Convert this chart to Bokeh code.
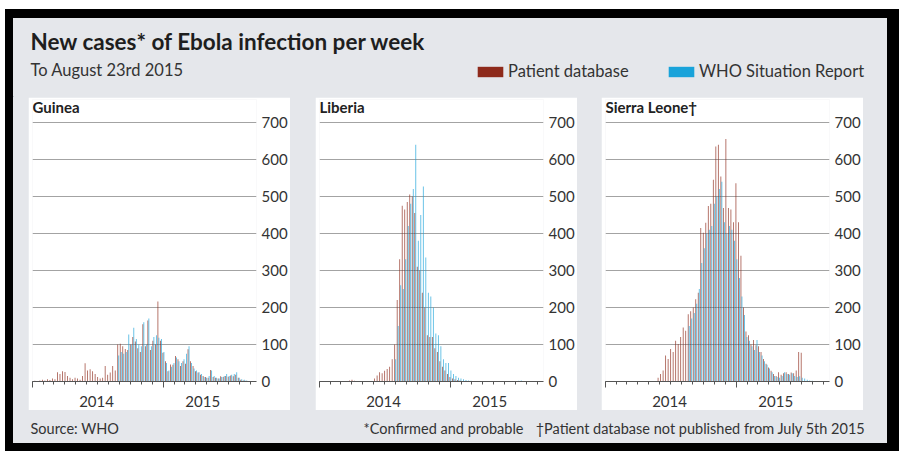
import pandas as pd
from bokeh.plotting import figure
from bokeh.models import (ColumnDataSource, Range1d, LinearAxis, FixedTicker, Grid,
                          DatetimeTickFormatter, Label, Legend, LegendItem, Spacer,
                          CustomLabelingPolicy)
from bokeh.layouts import column, row
from bokeh.embed import file_html
from bokeh.resources import INLINE

# ---------------- data ----------------
first_week_ending = "2014-01-05"   # weekly data, 86 weeks to August 23rd 2015
n_weeks = 86

guinea_patient = [0, 2, 0, 3, 5, 3, 6, 4, 8, 6,
                  25, 20, 28, 26, 15, 10, 6, 10, 8, 5,
                  15, 49, 30, 33, 28, 20, 12, 8, 10, 42,
                  18, 24, 42, 30, 100, 102, 95, 88, 85, 100,
                  120, 108, 90, 80, 155, 95, 165, 85, 110, 100,
                  216, 110, 78, 55, 28, 46, 45, 69, 60, 42,
                  55, 48, 87, 55, 42, 28, 24, 18, 15, 12,
                  10, 31, 12, 10, 8, 14, 12, 15, 13, 16,
                  14, 18, 10, 5, 3, 2]
guinea_who = [0, 0, 0, 0, 0, 0, 0, 0, 0, 0,
              0, 0, 0, 0, 0, 0, 0, 0, 0, 0,
              0, 0, 0, 0, 0, 0, 0, 0, 0, 0,
              0, 0, 0, 0, 70, 80, 75, 80, 127, 100,
              145, 115, 100, 95, 160, 100, 170, 95, 120, 125,
              118, 115, 80, 50, 30, 40, 50, 65, 55, 50,
              60, 75, 95, 50, 35, 30, 25, 20, 12, 10,
              15, 30, 15, 10, 8, 12, 15, 20, 15, 18,
              20, 25, 10, 6, 5, 3]
liberia_patient = [0, 0, 0, 0, 0, 0, 0, 0, 0, 0,
                   0, 0, 3, 5, 2, 1, 0, 0, 0, 0,
                   0, 0, 8, 16, 25, 22, 29, 34, 40, 60,
                   100, 220, 330, 475, 465, 485, 505, 500, 455, 310,
                   300, 240, 200, 125, 120, 120, 90, 80, 55, 40,
                   30, 20, 12, 8, 6, 4, 3, 1, 0, 0,
                   0, 0, 0, 0, 0, 0, 0, 0, 0, 0,
                   0, 0, 0, 0, 0, 0, 0, 0, 0, 0,
                   0, 0, 0, 0, 0, 0]
liberia_who = [0, 0, 0, 0, 0, 0, 0, 0, 0, 0,
               0, 0, 0, 0, 0, 0, 0, 0, 0, 0,
               0, 0, 0, 0, 0, 0, 0, 0, 0, 0,
               60, 150, 260, 250, 330, 420, 480, 520, 640, 380,
               450, 527, 335, 240, 230, 200, 130, 125, 95, 60,
               50, 50, 30, 20, 15, 10, 8, 6, 4, 3,
               2, 1, 0, 0, 1, 0, 0, 0, 0, 0,
               0, 0, 0, 0, 0, 0, 0, 0, 0, 2,
               3, 1, 0, 0, 0, 0]
sierra_patient = [0, 0, 0, 0, 0, 0, 0, 0, 0, 0,
                  0, 0, 0, 0, 0, 0, 0, 0, 0, 0,
                  0, 10, 20, 30, 70, 61, 88, 80, 110, 101,
                  120, 146, 137, 182, 190, 200, 222, 240, 415, 402,
                  429, 474, 480, 545, 635, 640, 554, 469, 655, 469,
                  465, 430, 536, 430, 340, 200, 135, 125, 100, 112,
                  98, 95, 80, 61, 48, 38, 29, 20, 15, 25,
                  18, 22, 25, 20, 24, 22, 30, 80, 78, 0,
                  0, 0, 0, 0, 0, 0]
sierra_who = [0, 0, 0, 0, 0, 0, 0, 0, 0, 0,
              0, 0, 0, 0, 0, 0, 0, 0, 0, 0,
              0, 0, 0, 0, 0, 0, 0, 0, 0, 0,
              0, 0, 0, 150, 170, 185, 210, 250, 320, 360,
              400, 410, 420, 480, 500, 520, 540, 430, 400, 420,
              410, 380, 330, 280, 230, 180, 120, 110, 95, 85,
              112, 80, 70, 55, 45, 35, 25, 15, 12, 10,
              15, 25, 20, 18, 22, 15, 12, 14, 10, 8,
              5, 3, 2, 1, 1, 0]

countries = ["Guinea", "Liberia", "Sierra Leone\u2020"]
series_names = ["Patient database", "WHO Situation Report"]
y_ticks = [0, 100, 200, 300, 400, 500, 600, 700]
year_starts = ["2014-01-01", "2015-01-01"]
year_label_pos = ["2014-06-28", "2015-04-20"]

# ---------------- style ----------------
FONT = "Lato"
BROWN = "#8e2a1b"
BLUE = "#19a3da"
GREY_BG = "#e5e7eb"
TEXT = "#333333"
DAY_MS = 86400000.0
Y_TOP = 762   # frame extends above the 700 line so the panel title sits inside it


def ms(d):
    return pd.Timestamp(d).value / 1e6


week_end = pd.date_range(first_week_ending, periods=n_weeks, freq="7D")
week_mid = [ms(d) - 3.5 * DAY_MS for d in week_end]
month_starts = [ms(d) for d in pd.date_range("2014-01-01", "2015-09-01", freq="MS")]

x_start = ms("2013-12-31 12:00")
x_end = ms("2015-09-17")

no_labels = CustomLabelingPolicy(code="for (const i of indices) indices.unset(i); return indices")


def make_panel(name, patient, who):
    p = figure(width=262, height=313, output_backend="svg", toolbar_location=None,
               x_axis_type=None, y_axis_type=None,
               x_range=Range1d(x_start, x_end), y_range=Range1d(0, Y_TOP),
               min_border_left=4, min_border_right=32, min_border_top=2, min_border_bottom=29,
               background_fill_color="white", border_fill_color="white",
               outline_line_color=None)
    p.title_location = None
    src = ColumnDataSource(dict(
        xb=[m - 1.4 * DAY_MS for m in week_mid],
        xw=[m + 1.4 * DAY_MS for m in week_mid],
        patient=patient, who=who))
    p.vbar(x="xb", top="patient", width=2.3 * DAY_MS, source=src,
           fill_color=BROWN, fill_alpha=0.78, line_color=None)
    p.vbar(x="xw", top="who", width=2.3 * DAY_MS, source=src,
           fill_color=BLUE, fill_alpha=0.78, line_color=None)

    p.add_layout(Grid(dimension=1, ticker=FixedTicker(ticks=y_ticks),
                      grid_line_color="#a3a3a3", grid_line_width=1))

    yax = LinearAxis(ticker=FixedTicker(ticks=y_ticks), axis_line_color=None,
                     major_tick_out=0, major_tick_in=0, minor_tick_out=0, minor_tick_in=0,
                     major_label_standoff=5, major_label_text_font=FONT,
                     major_label_text_font_size="15px", major_label_text_color=TEXT)
    p.add_layout(yax, "right")

    tick_ax = LinearAxis(ticker=FixedTicker(ticks=[ms(d) for d in year_starts],
                                            minor_ticks=month_starts),
                         axis_line_color="#555555", axis_line_width=1,
                         major_tick_line_color="#555555", minor_tick_line_color="#555555",
                         major_tick_out=6, major_tick_in=0, minor_tick_out=3, minor_tick_in=0,
                         major_label_policy=no_labels, major_label_standoff=0,
                         major_label_text_font_size="1px")
    p.add_layout(tick_ax, "below")

    fmt = DatetimeTickFormatter(microseconds="%Y", milliseconds="%Y", seconds="%Y",
                                minsec="%Y", minutes="%Y", hourmin="%Y", hours="%Y",
                                days="%Y", months="%Y", years="%Y")
    lab_ax = LinearAxis(ticker=FixedTicker(ticks=[ms(d) for d in year_label_pos]),
                        formatter=fmt, axis_line_color=None,
                        major_tick_out=0, major_tick_in=0, minor_tick_out=0, minor_tick_in=0,
                        major_label_standoff=4, major_label_text_font=FONT,
                        major_label_text_font_size="15px", major_label_text_color=TEXT)
    p.add_layout(lab_ax, "below")

    p.add_layout(Label(x=x_start, y=741, text=name, text_font=FONT,
                       text_font_size="15px", text_font_style="bold", text_color="#222222",
                       text_baseline="alphabetic"))
    return p


p1 = make_panel(countries[0], guinea_patient, guinea_who)
p2 = make_panel(countries[1], liberia_patient, liberia_who)
p3 = make_panel(countries[2], sierra_patient, sierra_who)
p1.margin = (0, 0, 0, 15)
p2.margin = (0, 0, 0, 25)
p3.margin = (0, 24, 0, 24)

# header
header = figure(width=874, height=79, output_backend="svg", toolbar_location=None,
                x_range=Range1d(0, 874), y_range=Range1d(0, 79),
                x_axis_type=None, y_axis_type=None, min_border=0,
                outline_line_color=None, background_fill_color=GREY_BG,
                border_fill_color=GREY_BG)
header.title_location = None
header.add_layout(Label(x=17, y=56, text="New cases* of Ebola infection per week",
                        text_font=FONT, text_font_size="22.5px", text_font_style="bold",
                        text_color="#1e1e1e", text_baseline="alphabetic"))
header.add_layout(Label(x=17, y=28, text="To August 23rd 2015", text_font=FONT,
                        text_font_size="16.5px", text_color=TEXT, text_baseline="alphabetic"))
r_b = header.vbar(x=[-50], top=[1], width=1, fill_color=BROWN, line_color=None)
r_w = header.vbar(x=[-50], top=[1], width=1, fill_color=BLUE, line_color=None)
for rr, lab, loc in [(r_b, series_names[0], (461, 16)), (r_w, series_names[1], (652, 16))]:
    lg = Legend(items=[LegendItem(label=lab, renderers=[rr])], location=loc,
                orientation="horizontal", glyph_width=32, glyph_height=13,
                label_standoff=2, padding=0, margin=0, border_line_color=None,
                background_fill_alpha=0, label_text_font=FONT,
                label_text_font_size="16.5px", label_text_color=TEXT)
    header.add_layout(lg)

# footer
footer = figure(width=874, height=33, output_backend="svg", toolbar_location=None,
                x_range=Range1d(0, 874), y_range=Range1d(0, 33),
                x_axis_type=None, y_axis_type=None, min_border=0,
                outline_line_color=None, background_fill_color=GREY_BG,
                border_fill_color=GREY_BG)
footer.title_location = None
footer.add_layout(Label(x=17, y=15, text="Source: WHO", text_font=FONT,
                        text_font_size="14.5px", text_color=TEXT, text_baseline="middle"))
footer.add_layout(Label(x=510, y=15, text="*Confirmed and probable", text_font=FONT,
                        text_font_size="14.5px", text_color=TEXT, text_baseline="middle",
                        text_align="right"))
footer.add_layout(Label(x=852, y=15, text="\u2020Patient database not published from July 5th 2015",
                        text_font=FONT, text_font_size="14.5px", text_color=TEXT,
                        text_baseline="middle", text_align="right"))

content = column(header, row(p1, p2, p3), footer, styles={"background-color": GREY_BG})
black_box = column(Spacer(width=894, height=9),
                   row(Spacer(width=8, height=425), content, Spacer(width=12, height=425)),
                   Spacer(width=894, height=8),
                   styles={"background-color": "#000000"})
page = column(Spacer(width=899, height=9),
              row(Spacer(width=5, height=442), black_box))

open("out.html", "w").write(file_html(page, INLINE))
